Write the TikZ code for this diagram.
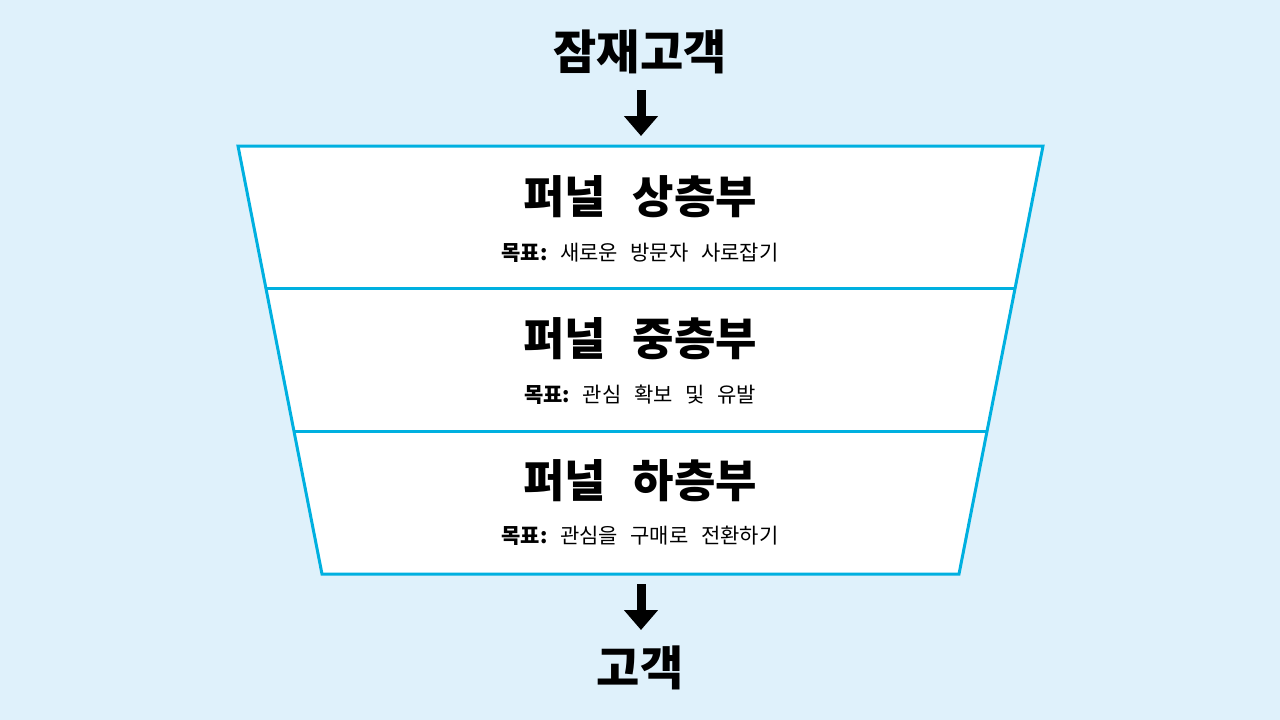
\documentclass[tikz,border=0pt]{standalone}
\usepackage{fontspec}
\setmainfont{Noto Sans CJK KR}
\usetikzlibrary{arrows.meta}
\definecolor{bg}{HTML}{DFF1FB}
\definecolor{fun}{HTML}{00B0E0}
\tikzset{
  big/.style={font=\fontsize{47}{50}\selectfont\bfseries},
  head/.style={font=\fontsize{45}{48}\selectfont\bfseries},
  sub/.style={font=\fontsize{21}{24}\selectfont},
  blockarrow/.style={line width=9pt,-{Triangle[width=33pt,length=20pt]}},
  layer/.style={draw=fun,line width=3pt,fill=white,line join=miter}
}
\begin{document}
\begin{tikzpicture}[x=1pt,y=-1pt]
\fill[bg] (0,0) rectangle (1280,720);
\useasboundingbox (0,0) rectangle (1280,720);
\draw[layer] (238,146) -- (1043,146) -- (959,574) -- (322,574) -- cycle;
\draw[fun,line width=3pt] (266,288) -- (1015,288);
\draw[fun,line width=3pt] (294,431) -- (987,431);
\node[big] (top) at (640,52) {잠재고객};
\node[big] (bot) at (640,668) {고객};
\coordinate (a1) at (641,90);
\coordinate (a2) at (641,136);
\coordinate (b1) at (641,584);
\coordinate (b2) at (641,630);
\draw[blockarrow] (a1) -- (a2);
\draw[blockarrow] (b1) -- (b2);
\node[head] (h1) at (640,197) {퍼널\hspace{0.6em}상층부};
\node[sub] (s1) at (640,253) {\textbf{목표:}\hspace{0.6em}새로운\hspace{0.6em}방문자\hspace{0.6em}사로잡기};
\node[head] (h2) at (640,339) {퍼널\hspace{0.6em}중층부};
\node[sub] (s2) at (640,395) {\textbf{목표:}\hspace{0.6em}관심\hspace{0.6em}확보\hspace{0.6em}및\hspace{0.6em}유발};
\node[head] (h3) at (640,481) {퍼널\hspace{0.6em}하층부};
\node[sub] (s3) at (640,536) {\textbf{목표:}\hspace{0.6em}관심을\hspace{0.6em}구매로\hspace{0.6em}전환하기};
\end{tikzpicture}
\end{document}
